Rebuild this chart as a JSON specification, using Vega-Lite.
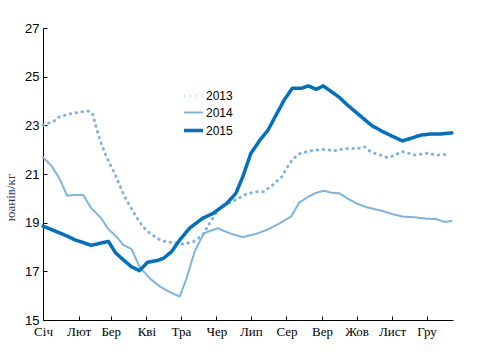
{
  "$schema": "https://vega.github.io/schema/vega-lite/v6.json",
  "autosize": "none",
  "padding": {"left": 43, "top": 28, "right": 27, "bottom": 40},
  "width": 410,
  "height": 292,
  "background": "white",
  "config": {"view": {"stroke": null}},
  "data": {"values": [
    {"year":"2013","day":1,"price":23.01},{"year":"2013","day":10,"price":23.15},{"year":"2013","day":14,"price":23.33},{"year":"2013","day":24,"price":23.47},{"year":"2013","day":35,"price":23.56},{"year":"2013","day":40,"price":23.59},{"year":"2013","day":44,"price":23.5},{"year":"2013","day":48,"price":22.81},{"year":"2013","day":51,"price":22.33},{"year":"2013","day":55,"price":21.85},{"year":"2013","day":59,"price":21.44},{"year":"2013","day":64,"price":20.96},{"year":"2013","day":68,"price":20.51},{"year":"2013","day":72,"price":20.07},{"year":"2013","day":77,"price":19.66},{"year":"2013","day":82,"price":19.25},{"year":"2013","day":88,"price":18.84},{"year":"2013","day":94,"price":18.56},{"year":"2013","day":100,"price":18.38},{"year":"2013","day":104,"price":18.26},{"year":"2013","day":114,"price":18.18},{"year":"2013","day":123,"price":18.12},{"year":"2013","day":132,"price":18.22},{"year":"2013","day":140,"price":18.49},{"year":"2013","day":146,"price":18.97},{"year":"2013","day":155,"price":19.63},{"year":"2013","day":164,"price":19.82},{"year":"2013","day":171,"price":20.0},{"year":"2013","day":178,"price":20.18},{"year":"2013","day":187,"price":20.27},{"year":"2013","day":193,"price":20.27},{"year":"2013","day":201,"price":20.55},{"year":"2013","day":209,"price":20.89},{"year":"2013","day":214,"price":21.3},{"year":"2013","day":219,"price":21.64},{"year":"2013","day":225,"price":21.85},{"year":"2013","day":235,"price":21.96},{"year":"2013","day":245,"price":22.01},{"year":"2013","day":255,"price":21.96},{"year":"2013","day":265,"price":22.05},{"year":"2013","day":275,"price":22.05},{"year":"2013","day":281,"price":22.12},{"year":"2013","day":285,"price":21.96},{"year":"2013","day":290,"price":21.85},{"year":"2013","day":300,"price":21.69},{"year":"2013","day":304,"price":21.71},{"year":"2013","day":314,"price":21.92},{"year":"2013","day":325,"price":21.78},{"year":"2013","day":335,"price":21.85},{"year":"2013","day":345,"price":21.78},{"year":"2013","day":354,"price":21.82},
    {"year":"2014","day":1,"price":21.69},{"year":"2014","day":9,"price":21.3},{"year":"2014","day":16,"price":20.75},{"year":"2014","day":22,"price":20.11},{"year":"2014","day":29,"price":20.14},{"year":"2014","day":36,"price":20.14},{"year":"2014","day":43,"price":19.59},{"year":"2014","day":51,"price":19.22},{"year":"2014","day":58,"price":18.73},{"year":"2014","day":65,"price":18.42},{"year":"2014","day":71,"price":18.08},{"year":"2014","day":78,"price":17.92},{"year":"2014","day":85,"price":17.19},{"year":"2014","day":94,"price":16.71},{"year":"2014","day":103,"price":16.37},{"year":"2014","day":111,"price":16.16},{"year":"2014","day":120,"price":15.96},{"year":"2014","day":126,"price":16.71},{"year":"2014","day":133,"price":17.81},{"year":"2014","day":141,"price":18.56},{"year":"2014","day":153,"price":18.77},{"year":"2014","day":164,"price":18.56},{"year":"2014","day":175,"price":18.4},{"year":"2014","day":188,"price":18.56},{"year":"2014","day":197,"price":18.73},{"year":"2014","day":207,"price":18.97},{"year":"2014","day":217,"price":19.25},{"year":"2014","day":224,"price":19.82},{"year":"2014","day":232,"price":20.07},{"year":"2014","day":239,"price":20.23},{"year":"2014","day":246,"price":20.31},{"year":"2014","day":252,"price":20.23},{"year":"2014","day":259,"price":20.21},{"year":"2014","day":266,"price":20.0},{"year":"2014","day":274,"price":19.79},{"year":"2014","day":283,"price":19.63},{"year":"2014","day":296,"price":19.49},{"year":"2014","day":306,"price":19.34},{"year":"2014","day":314,"price":19.25},{"year":"2014","day":325,"price":19.22},{"year":"2014","day":335,"price":19.16},{"year":"2014","day":343,"price":19.15},{"year":"2014","day":351,"price":19.03},{"year":"2014","day":357,"price":19.07},
    {"year":"2015","day":1,"price":18.86},{"year":"2015","day":22,"price":18.45},{"year":"2015","day":29,"price":18.29},{"year":"2015","day":43,"price":18.07},{"year":"2015","day":58,"price":18.23},{"year":"2015","day":64,"price":17.77},{"year":"2015","day":71,"price":17.47},{"year":"2015","day":78,"price":17.19},{"year":"2015","day":85,"price":17.03},{"year":"2015","day":92,"price":17.37},{"year":"2015","day":101,"price":17.45},{"year":"2015","day":106,"price":17.54},{"year":"2015","day":113,"price":17.81},{"year":"2015","day":120,"price":18.29},{"year":"2015","day":129,"price":18.79},{"year":"2015","day":140,"price":19.18},{"year":"2015","day":149,"price":19.38},{"year":"2015","day":161,"price":19.79},{"year":"2015","day":169,"price":20.21},{"year":"2015","day":175,"price":20.89},{"year":"2015","day":182,"price":21.85},{"year":"2015","day":190,"price":22.4},{"year":"2015","day":197,"price":22.81},{"year":"2015","day":204,"price":23.43},{"year":"2015","day":211,"price":24.04},{"year":"2015","day":218,"price":24.52},{"year":"2015","day":226,"price":24.52},{"year":"2015","day":232,"price":24.62},{"year":"2015","day":239,"price":24.48},{"year":"2015","day":245,"price":24.62},{"year":"2015","day":252,"price":24.39},{"year":"2015","day":259,"price":24.15},{"year":"2015","day":266,"price":23.84},{"year":"2015","day":274,"price":23.52},{"year":"2015","day":285,"price":23.08},{"year":"2015","day":288,"price":22.97},{"year":"2015","day":297,"price":22.74},{"year":"2015","day":306,"price":22.53},{"year":"2015","day":314,"price":22.36},{"year":"2015","day":323,"price":22.49},{"year":"2015","day":330,"price":22.6},{"year":"2015","day":338,"price":22.64},{"year":"2015","day":346,"price":22.64},{"year":"2015","day":357,"price":22.69}
  ]},
  "mark": {"type": "line", "strokeCap": "round", "strokeJoin": "round"},
  "encoding": {
    "x": {
      "field": "day", "type": "quantitative",
      "scale": {"domain": [1, 358], "nice": false, "zero": false},
      "axis": {
        "title": null, "grid": false,
        "values": [1,32,60,91,121,152,182,213,244,274,305,335],
        "labelExpr": "['Січ','Лют','Бер','Кві','Тра','Чер','Лип','Сер','Вер','Жов','Лист','Гру'][indexof([1,32,60,91,121,152,182,213,244,274,305,335], datum.value)]",
        "labelFont": "Liberation Serif", "labelFontSize": 13, "labelColor": "#000000",
        "labelPadding": 9, "labelAlign": "center",
        "tickSize": -4, "tickColor": "#000000", "domainColor": "#000000", "domainWidth": 1,
        "labelOverlap": false
      }
    },
    "y": {
      "field": "price", "type": "quantitative",
      "scale": {"domain": [15, 27], "nice": false, "zero": false},
      "axis": {
        "title": "юанів/кг", "grid": false,
        "values": [15,17,19,21,23,25,27],
        "labelFont": "Liberation Sans", "labelFontSize": 13, "labelColor": "#000000",
        "labelPadding": 8,
        "tickSize": -4, "tickColor": "#000000", "domainColor": "#000000", "domainWidth": 1,
        "titleFont": "Liberation Serif", "titleFontSize": 13, "titleFontWeight": "normal", "titleColor": "#1F3864",
        "titleX": -26, "titleY": 169, "titleAngle": -90, "titleAlign": "center", "titleBaseline": "bottom"
      }
    },
    "color": {
      "field": "year", "type": "nominal",
      "scale": {"domain": ["2013","2014","2015"], "range": ["#7FB4E2","#7FB4E2","#0070C0"]},
      "legend": {
        "title": null, "orient": "none", "legendX": 139, "legendY": 57,
        "labelFont": "Liberation Sans", "labelFontSize": 12, "labelColor": "#000000",
        "symbolType": "stroke", "symbolSize": 361, "labelOffset": 1, "rowPadding": -3
      }
    },
    "strokeDash": {
      "field": "year", "type": "nominal",
      "scale": {"domain": ["2013","2014","2015"], "range": [[0.5, 5.5], [1, 0], [1, 0]]},
      "legend": {
        "title": null, "orient": "none", "legendX": 139, "legendY": 57,
        "labelFont": "Liberation Sans", "labelFontSize": 12, "labelColor": "#000000",
        "symbolType": "stroke", "symbolSize": 361, "labelOffset": 1, "rowPadding": -3
      }
    },
    "strokeWidth": {
      "field": "year", "type": "ordinal",
      "scale": {"type": "ordinal", "domain": ["2013","2014","2015"], "range": [3, 2, 3.5]},
      "legend": {
        "title": null, "orient": "none", "legendX": 139, "legendY": 57,
        "labelFont": "Liberation Sans", "labelFontSize": 12, "labelColor": "#000000",
        "symbolType": "stroke", "symbolSize": 361, "labelOffset": 1, "rowPadding": -3
      }
    }
  }
}
